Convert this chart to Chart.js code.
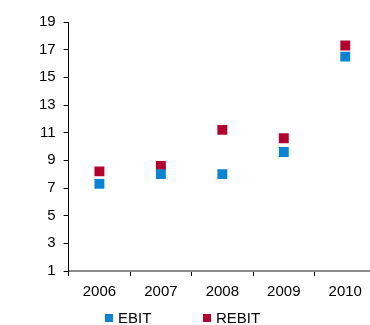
<!DOCTYPE html>
<html>
<head>
<meta charset="utf-8">
<script src="https://cdn.jsdelivr.net/npm/chart.js@4/dist/chart.umd.min.js"></script>
<style>
  html, body { margin: 0; padding: 0; background: #fff; overflow: hidden; }
  #wrap { width: 370px; height: 325px; overflow: hidden; }
</style>
</head>
<body>
<div id="wrap"><canvas id="grafico" width="383" height="325"></canvas></div>
<script>
const anios = ['2006', '2007', '2008', '2009', '2010'];
const ebit = [7.3, 8.0, 8.0, 9.6, 16.5];
const rebit = [8.2, 8.6, 11.2, 10.6, 17.3];
const ticksY = [1, 3, 5, 7, 9, 11, 13, 15, 17, 19];

const azul = '#0a83d4';
const rojo = '#b5002e';
const fuente = { family: 'Liberation Sans, Arial, sans-serif', size: 15 };

// leyenda dibujada a mano para poder separar los items como en el original
const leyenda = {
    id: 'leyenda',
    afterDraw(chart) {
        const ctx = chart.ctx;
        const pos = [105, 203];
        ctx.save();
        ctx.font = '15px "Liberation Sans", Arial, sans-serif';
        ctx.textBaseline = 'middle';
        chart.data.datasets.forEach((ds, i) => {
            ctx.fillStyle = ds.backgroundColor;
            ctx.fillRect(pos[i], 314, 8, 8);
            ctx.fillStyle = '#000';
            ctx.fillText(ds.label, pos[i] + 13, 318.5);
        });
        ctx.restore();
    }
};

const ctx = document.getElementById('grafico').getContext('2d');
const grafico = new Chart(ctx, {
    type: 'line',
    data: {
        labels: anios,
        datasets: [
            {
                label: 'EBIT',
                data: ebit,
                showLine: false,
                pointStyle: 'rect',
                pointRadius: 7,
                pointBorderWidth: 0,
                backgroundColor: azul,
                borderColor: azul
            },
            {
                label: 'REBIT',
                data: rebit,
                showLine: false,
                pointStyle: 'rect',
                pointRadius: 7,
                pointBorderWidth: 0,
                backgroundColor: rojo,
                borderColor: rojo
            }
        ]
    },
    options: {
        responsive: false,
        animation: false,
        layout: { padding: { top: 22, left: 31, right: 0, bottom: 17 } },
        plugins: {
            legend: { display: false },
            tooltip: { enabled: false }
        },
        scales: {
            x: {
                offset: true,
                grid: {
                    offset: true,
                    drawOnChartArea: false,
                    tickLength: 5,
                    color: '#000'
                },
                border: { color: '#8c8c8c', width: 2 },
                ticks: { color: '#000', font: fuente, padding: 7 }
            },
            y: {
                min: 1,
                max: 19,
                afterBuildTicks: axis => {
                    axis.ticks = ticksY.map(v => ({ value: v }));
                },
                grid: {
                    drawOnChartArea: false,
                    tickLength: 5,
                    color: '#000'
                },
                border: { color: '#000', width: 1 },
                ticks: { color: '#000', font: fuente, padding: 8 }
            }
        }
    },
    plugins: [leyenda]
});
</script>
</body>
</html>
